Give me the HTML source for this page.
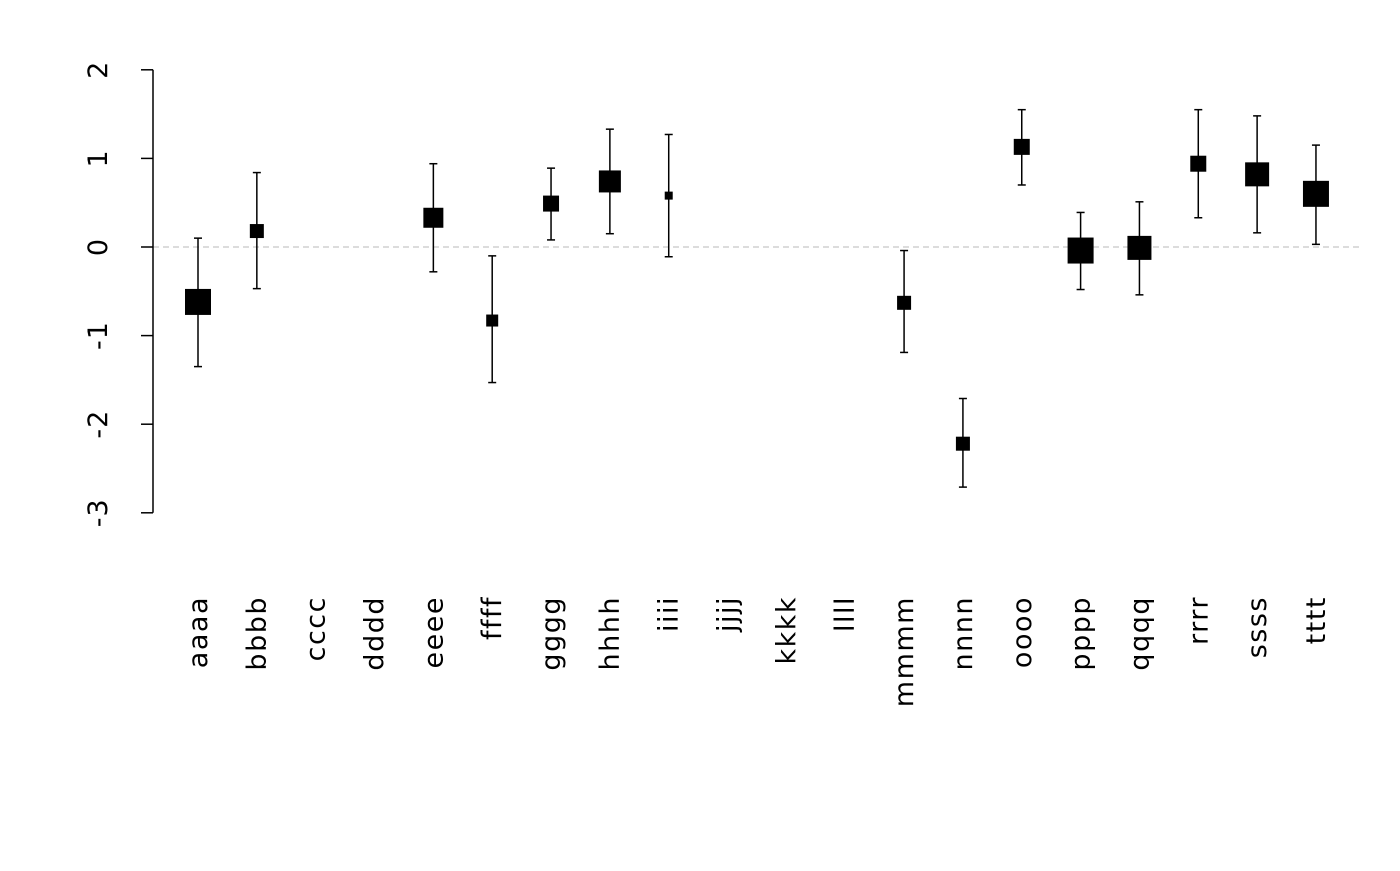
<!DOCTYPE html>
<html><head><meta charset="utf-8"><style>
body{margin:0;background:#fff}
svg text{font-family:"DejaVu Sans","Liberation Sans",sans-serif;fill:#000}
</style></head><body>
<svg id="chart" width="1400" height="866" xmlns="http://www.w3.org/2000/svg"></svg>
<script>
const categories=["aaaa","bbbb","cccc","dddd","eeee","ffff","gggg","hhhh","iiii","jjjj","kkkk","llll","mmmm","nnnn","oooo","pppp","qqqq","rrrr","ssss","tttt"];
const estimates=[-0.62,0.18,null,null,0.33,-0.83,0.49,0.74,0.58,null,null,null,-0.63,-2.22,1.13,-0.04,-0.01,0.94,0.82,0.6];
const lower=[-1.35,-0.47,null,null,-0.28,-1.53,0.08,0.15,-0.11,null,null,null,-1.19,-2.71,0.7,-0.48,-0.54,0.33,0.16,0.03];
const upper=[0.1,0.84,null,null,0.94,-0.1,0.89,1.33,1.27,null,null,null,-0.04,-1.71,1.55,0.39,0.51,1.55,1.48,1.15];
const weights=[13,7,null,null,10,6,8,11,4,null,null,null,7,7,8,13,12,8,12,13];
const yTicks=[2,1,0,-1,-2,-3];
const yTickLabels=["2","1","0","-1","-2","-3"];
const svg=document.getElementById('chart');
const NS='http://www.w3.org/2000/svg';
const y=v=>247-88.6*v;
const x=i=>198+i*58.84;
function mk(t,a,p){const e=document.createElementNS(NS,t);for(const k in a)e.setAttribute(k,a[k]);(p||svg).appendChild(e);return e;}
let ref=mk('line',{x1:153,x2:1362,y1:y(0),y2:y(0),stroke:'#d0d0d0','stroke-width':1.5,'stroke-dasharray':'6,4'});


let ax=mk('line',{x1:153,x2:153,y1:y(2),y2:y(-3),stroke:'#000','stroke-width':1.5});


yTicks.forEach((v,i)=>{
  let t=mk('line',{x1:141,x2:153,y1:y(v),y2:y(v),stroke:'#000','stroke-width':1.5});
  
  
  let l=mk('text',{x:0,y:0,'font-size':27,'letter-spacing':1,'text-anchor':'middle',transform:`translate(107,${y(v)}) rotate(-90)`});
  l.textContent=yTickLabels[i];
  
  
});
categories.forEach((c,i)=>{
  let l=mk('text',{x:0,y:0,'font-size':27,'letter-spacing':1.5,'text-anchor':'end',transform:`translate(${x(i)+9},596) rotate(-90)`});
  l.textContent=c;
  
  
  if(estimates[i]===null)return;
  const g=mk('g',{});
  
  
  mk('line',{x1:x(i),x2:x(i),y1:y(upper[i]),y2:y(lower[i]),stroke:'#000','stroke-width':1.5},g);
  mk('line',{x1:x(i)-4,x2:x(i)+4,y1:y(upper[i]),y2:y(upper[i]),stroke:'#000','stroke-width':1.5},g);
  mk('line',{x1:x(i)-4,x2:x(i)+4,y1:y(lower[i]),y2:y(lower[i]),stroke:'#000','stroke-width':1.5},g);
  const h=weights[i];
  mk('rect',{x:x(i)-h,y:y(estimates[i])-h,width:2*h,height:2*h,fill:'#000'},g);
});
</script>
</body></html>
